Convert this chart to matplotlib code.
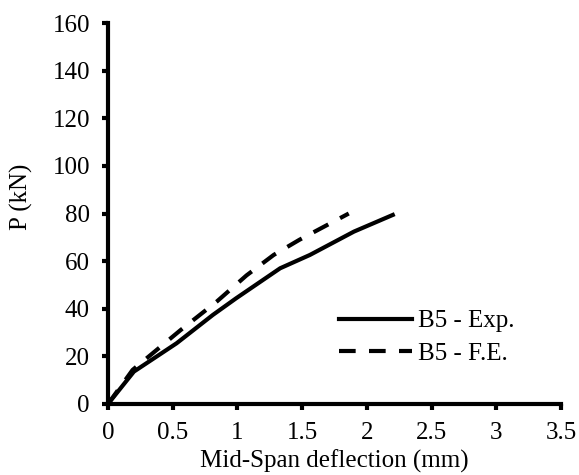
import matplotlib
matplotlib.use("Agg")
import matplotlib.pyplot as plt

# Experimental curve
exp_x = [0, 0.2, 0.53, 0.81, 0.99, 1.33, 1.56, 1.90, 2.20]
exp_y = [0, 13.6, 25.5, 37.4, 44.4, 57.0, 62.6, 72.4, 79.4]

# Finite element curve
fe_x = [0, 0.19, 0.56, 0.84, 1.07, 1.28, 1.48, 1.86]
fe_y = [0, 14.3, 31.0, 43.0, 54.0, 62.6, 69.0, 80.0]

xticks = [0, 0.5, 1, 1.5, 2, 2.5, 3, 3.5]
xticklabels = ["0", "0.5", "1", "1.5", "2", "2.5", "3", "3.5"]
yticks = [0, 20, 40, 60, 80, 100, 120, 140, 160]

plt.rcParams["font.family"] = ["Liberation Serif", "DejaVu Serif"]

fig = plt.figure(figsize=(5.79, 4.75), dpi=100)
ax = fig.add_axes([0.1865, 0.1495, 0.7825, 0.802])

ax.plot(exp_x, exp_y, color="black", lw=3, label="B5 - Exp.")
ax.plot(fe_x, fe_y, color="black", lw=3, ls=(0, (4, 3.2)), label="B5 - F.E.")

ax.set_xlim(0, 3.5)
ax.set_ylim(0, 160)
ax.set_xticks(xticks)
ax.set_xticklabels(xticklabels)
ax.set_yticks(yticks)

for side in ["top", "right"]:
    ax.spines[side].set_visible(False)
for side in ["left", "bottom"]:
    ax.spines[side].set_linewidth(3)
    ax.spines[side].set_clip_on(False)
ax.tick_params(direction="out", length=4, width=3, labelsize=18, pad=9)

ax.set_xlabel("Mid-Span deflection (mm)", fontsize=18, labelpad=4)
ax.set_ylabel("P (kN)", fontsize=18)
ax.yaxis.set_label_coords(-0.165, 0.543)

ax.legend(loc="center left", bbox_to_anchor=(0.51, 0.175), frameon=False,
          borderpad=0, borderaxespad=0,
          fontsize=18, handlelength=2.92, handletextpad=0.24, labelspacing=0.4)

fig.savefig("out.png", dpi=100)
